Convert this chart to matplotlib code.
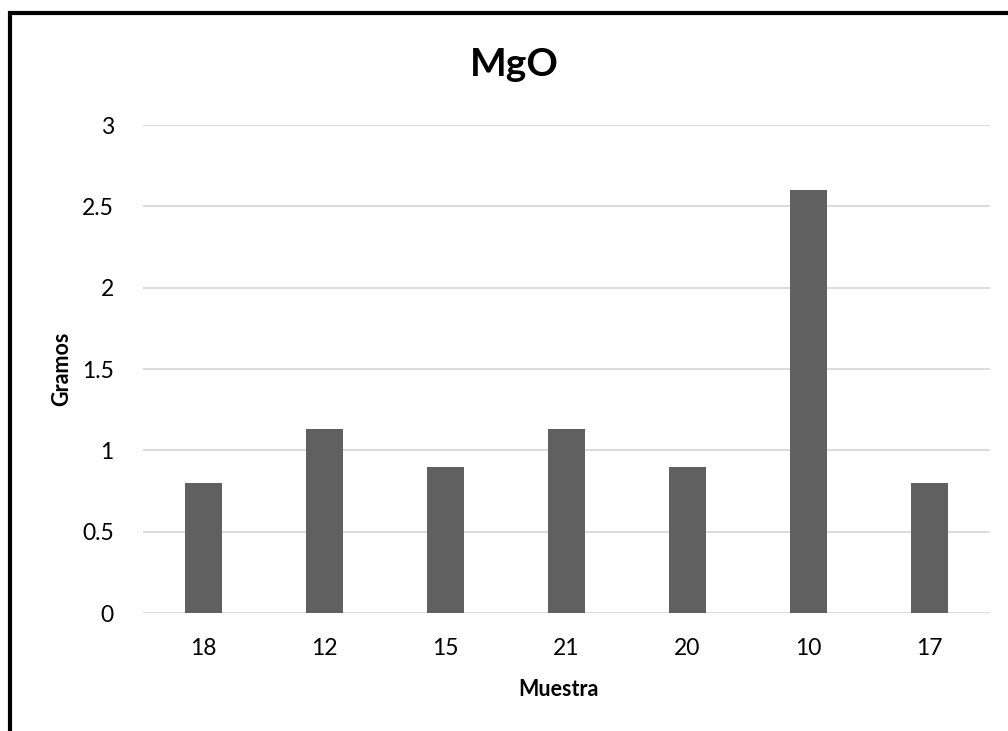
import matplotlib
matplotlib.use("Agg")
import matplotlib.pyplot as plt
from matplotlib.patches import Rectangle

plt.rcParams["font.family"] = ["Lato", "DejaVu Sans"]

# MgO por muestra (gramos)
muestras = ["18", "12", "15", "21", "20", "10", "17"]
gramos = [0.8, 1.13, 0.9, 1.13, 0.9, 2.6, 0.8]
y_ticks = [0, 0.5, 1, 1.5, 2, 2.5, 3]
y_tick_labels = ["0", "0.5", "1", "1.5", "2", "2.5", "3"]

W, H = 1008, 731
fig = plt.figure(figsize=(W / 100, H / 100), dpi=100)
ax = fig.add_axes([143 / W, 1 - 613 / H, (990 - 143) / W, (613 - 125) / H])

x = range(len(muestras))
ax.bar(x, gramos, width=0.31, color="#606060", zorder=3)

ax.set_xlim(-0.5, len(muestras) - 0.5)
ax.set_ylim(0, 3)
ax.set_yticks(y_ticks)
ax.set_yticklabels(y_tick_labels)
ax.set_xticks(list(x))
ax.set_xticklabels(muestras)
ax.grid(axis="y", color="#d9d9d9", linewidth=1.3, zorder=0)
ax.set_axisbelow(True)
for side in ["top", "right", "left", "bottom"]:
    ax.spines[side].set_visible(False)
ax.tick_params(axis="both", length=0, labelsize=16.5, colors="black")
ax.tick_params(axis="y", pad=21)
ax.tick_params(axis="x", pad=18)

fig.text(514 / W, 1 - 64 / H, "MgO", ha="center", va="center",
         fontsize=28, fontweight="bold")
fig.text(558 / W, 1 - 689 / H, "Muestra", ha="center", va="center",
         fontsize=15.5, fontweight="bold")
fig.text(62 / W, 1 - 369 / H, "Gramos", ha="center", va="center",
         fontsize=15.5, fontweight="bold", rotation=90)

# marco negro alrededor del gráfico
fig.patches.append(Rectangle((10.3 / W, -0.1), 1.2, 1 - 13 / H + 0.1,
                             transform=fig.transFigure, fill=False,
                             edgecolor="black", linewidth=3, clip_on=False))

fig.savefig("out.png", dpi=100, facecolor="white")
